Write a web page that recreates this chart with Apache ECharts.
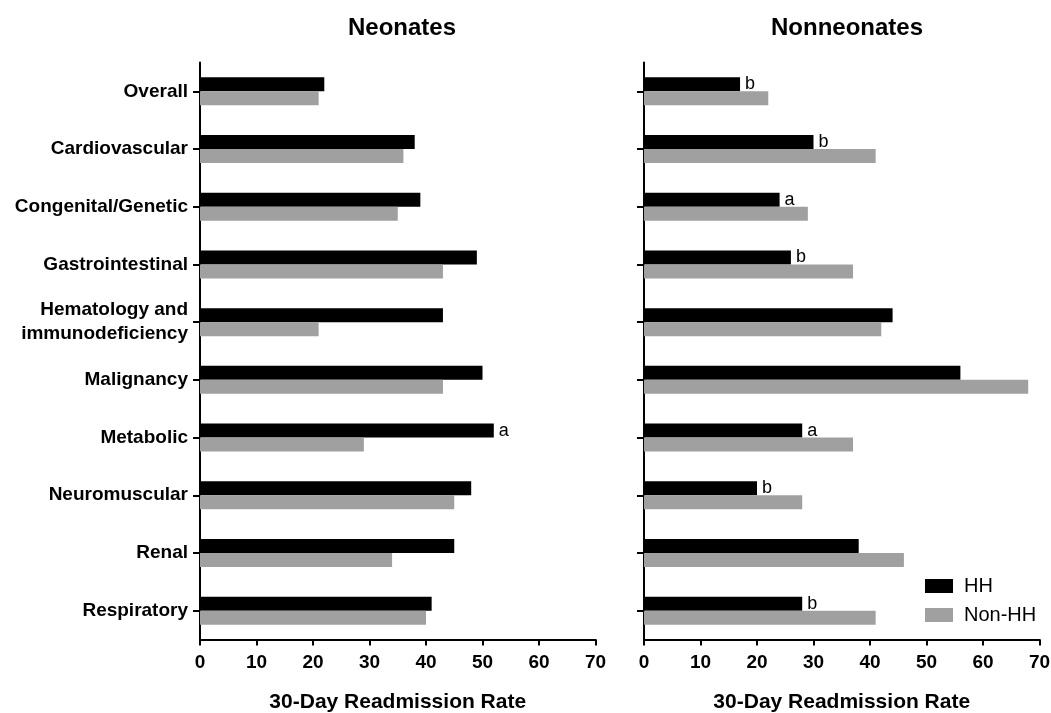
<!DOCTYPE html>
<html>
<head>
<meta charset="utf-8">
<script src="https://cdn.jsdelivr.net/npm/echarts@6/dist/echarts.min.js"></script>
<style>html,body{margin:0;padding:0;background:#fff}#c{width:1051px;height:713px}</style>
</head>
<body>
<div id="c"></div>
<script>
const categories = ['Overall','Cardiovascular','Congenital/Genetic','Gastrointestinal','Hematology and\nimmunodeficiency','Malignancy','Metabolic','Neuromuscular','Renal','Respiratory'];
const neoHH    = [22, 38, 39, 49, 43, 50, 52, 48, 45, 41];
const neoNonHH = [21, 36, 35, 43, 21, 43, 29, 45, 34, 40];
const nonHH    = [17, 30, 24, 26, 44, 56, 28, 20, 38, 28];
const nonNonHH = [22, 41, 29, 37, 42, 68, 37, 28, 46, 41];
const neoMarks = ['', '', '', '', '', '', 'a', '', '', ''];
const nonMarks = ['b', 'b', 'a', 'b', '', '', 'a', 'b', '', 'b'];
const xTicks = [0, 10, 20, 30, 40, 50, 60, 70];
const panelTitles = ['Neonates', 'Nonneonates'];
const seriesNames = ['HH', 'Non-HH'];
const axisName = '30-Day Readmission Rate';

const FONT = 'Liberation Sans, Arial, Helvetica, sans-serif';
const BLACK = '#000000', GRAY = '#a0a0a0';
const axisLine = {show: true, lineStyle: {color: '#000', width: 2}};

function xAxis(idx) {
  return {
    type: 'value', gridIndex: idx, min: xTicks[0], max: xTicks[xTicks.length - 1], interval: 10,
    axisLine: axisLine,
    axisTick: {show: true, length: 6, lineStyle: {color: '#000', width: 2}},
    splitLine: {show: false},
    axisLabel: {color: '#000', fontFamily: FONT, fontWeight: 'bold', fontSize: 19, margin: 14},
    name: axisName, nameLocation: 'middle', nameGap: 52,
    nameTextStyle: {color: '#000', fontFamily: FONT, fontWeight: 'bold', fontSize: 21}
  };
}
function yAxis(idx, showLabel) {
  return {
    type: 'category', gridIndex: idx, data: categories, inverse: true,
    axisLine: axisLine,
    axisTick: {show: true, alignWithLabel: true, length: 7, lineStyle: {color: '#000', width: 2}},
    axisLabel: {show: showLabel, color: '#000', fontFamily: FONT, fontWeight: 'bold', fontSize: 19, margin: 12, lineHeight: 24}
  };
}
function markLabel(marks) {
  return {
    show: true, position: 'right', distance: 5, color: '#000', fontFamily: FONT, fontSize: 18,
    formatter: p => marks[p.dataIndex]
  };
}
function bar(name, data, color, idx, marks) {
  const s = {
    name: name, type: 'bar', xAxisIndex: idx, yAxisIndex: idx, data: data,
    barWidth: 14, barGap: '0%', itemStyle: {color: color}, silent: true
  };
  if (marks) s.label = markLabel(marks);
  return s;
}

const chart = echarts.init(document.getElementById('c'), null, {renderer: 'canvas'});
chart.setOption({
  animation: false,
  backgroundColor: '#fff',
  title: [
    {text: panelTitles[0], left: 397, top: 11, textAlign: 'center', textStyle: {color: '#000', fontFamily: FONT, fontWeight: 'bold', fontSize: 24}},
    {text: panelTitles[1], left: 842, top: 11, textAlign: 'center', textStyle: {color: '#000', fontFamily: FONT, fontWeight: 'bold', fontSize: 24}}
  ],
  legend: {
    data: seriesNames, orient: 'vertical', left: 920, top: 571, itemWidth: 28, itemHeight: 14, itemGap: 9,
    icon: 'rect', selectedMode: false,
    textStyle: {color: '#000', fontFamily: FONT, fontSize: 20, padding: [0, 0, 0, 6]}
  },
  grid: [
    {left: 200, width: 395.5, top: 62.5, bottom: 73.5, containLabel: false, outerBoundsMode: 'none'},
    {left: 644, width: 395.5, top: 62.5, bottom: 73.5, containLabel: false, outerBoundsMode: 'none'}
  ],
  xAxis: [xAxis(0), xAxis(1)],
  yAxis: [yAxis(0, true), yAxis(1, false)],
  series: [
    bar(seriesNames[0], neoHH, BLACK, 0, neoMarks),
    bar(seriesNames[1], neoNonHH, GRAY, 0, null),
    bar(seriesNames[0], nonHH, BLACK, 1, nonMarks),
    bar(seriesNames[1], nonNonHH, GRAY, 1, null)
  ]
});
</script>
</body>
</html>
